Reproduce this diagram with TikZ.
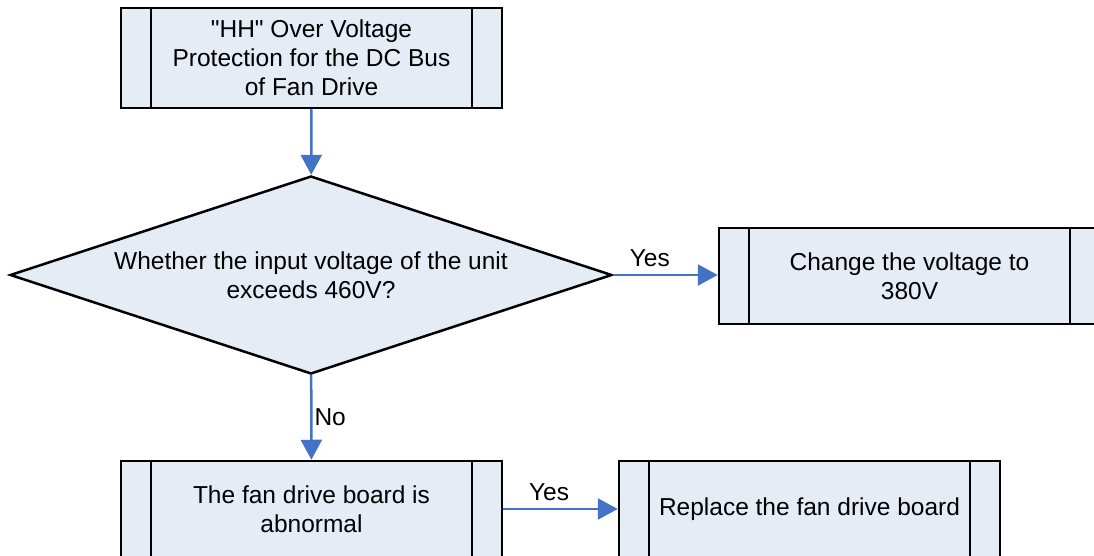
\documentclass[tikz,border=0pt]{standalone}
\usepackage{fontspec}
\setmainfont{Liberation Sans}[Ligatures=TeXOff]
\usetikzlibrary{arrows.meta, positioning, shapes.geometric}
\definecolor{boxfill}{HTML}{E6ECF6}
\definecolor{flowblue}{HTML}{4472C4}

\begin{document}
\begin{tikzpicture}[x=1pt, y=-1pt,
    font=\fontsize{24.5}{29}\selectfont,
    proc/.style={draw, fill=boxfill, line width=2.5pt, minimum width=381pt,
                 minimum height=96pt, align=center, inner sep=0pt,
                 path picture={
                   \draw[line width=2.5pt]
                     ([xshift=30pt]path picture bounding box.north west) --
                     ([xshift=30pt]path picture bounding box.south west)
                     ([xshift=-30pt]path picture bounding box.north east) --
                     ([xshift=-30pt]path picture bounding box.south east);}},
    dec/.style={draw, diamond, fill=boxfill, line width=2.5pt, aspect=3,
                minimum width=602pt, minimum height=198pt, inner sep=0pt,
                align=center},
    flow/.style={draw=flowblue, line width=2.5pt,
                 -{Triangle[length=20pt, width=21pt]}},
    lbl/.style={inner sep=7pt}
  ]
  \useasboundingbox (0,0) rectangle (1094,556);
  \clip (0,0) rectangle (1094,556);

  \node[proc, minimum height=100pt] (hh) at (311.5,58)
    {"HH" Over Voltage\\Protection for the DC Bus\\of Fan Drive};
  \node[dec] (volt) at (311,275)
    {Whether the input voltage of the unit\\exceeds 460V?};
  \node[proc] (chg) at (909.5,276) {Change the voltage to\\380V};
  \node[proc] (fan) at (311.5,509) {The fan drive board is\\abnormal};
  \node[proc] (rep) at (809.5,509) {Replace the fan drive board};

  \draw[flow] (hh) -- (volt);
  \draw[flow] (volt.east) -- node[lbl, above, pos=0.35] {Yes} (volt.east -| chg.west);
  \draw[flow] (volt) -- node[lbl, right, pos=0.5, inner sep=2pt] {No} (fan);
  \draw[flow] (fan) -- node[lbl, above, pos=0.4] {Yes} (rep);
\end{tikzpicture}
\end{document}
